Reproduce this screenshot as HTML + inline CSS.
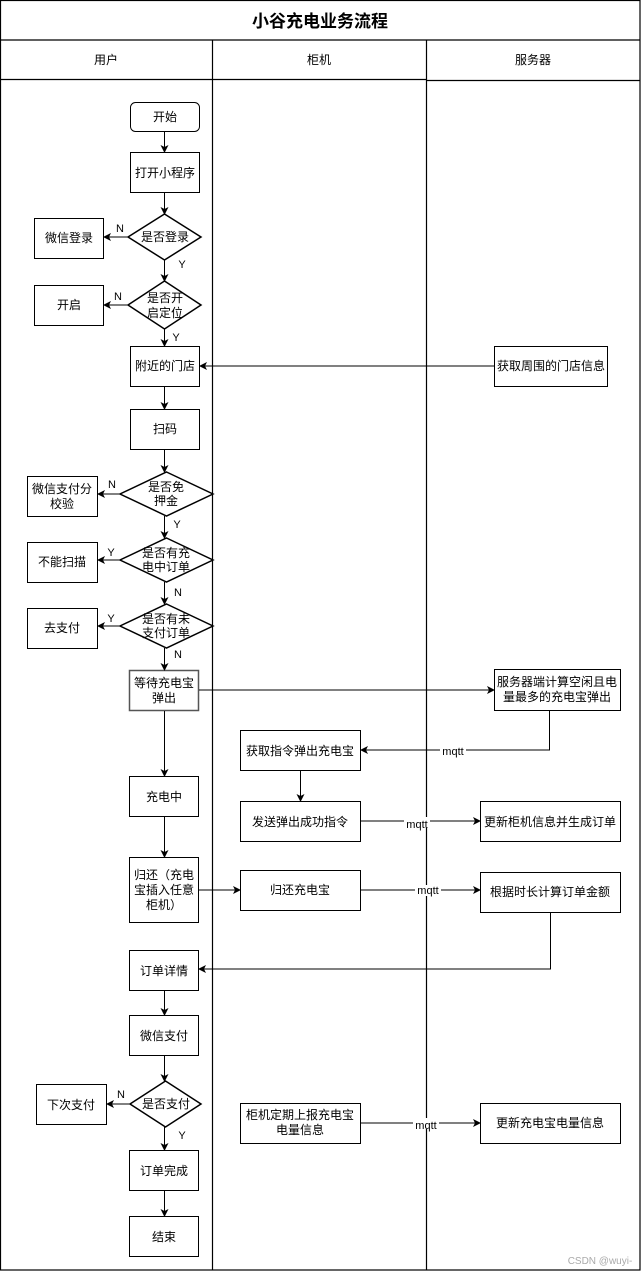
<!DOCTYPE html>
<html><head><meta charset="utf-8"><style>
html,body{margin:0;padding:0;background:#fff;}
svg{display:block;}
text{font-family:"Liberation Sans","Noto Sans CJK SC",sans-serif;font-size:12px;fill:#000;}
.l{font-size:11px;}
</style></head><body>
<svg width="641" height="1271" viewBox="0 0 641 1271" xmlns="http://www.w3.org/2000/svg">
<defs><marker id="a" markerWidth="8" markerHeight="8" refX="7" refY="4" orient="auto" markerUnits="userSpaceOnUse"><path d="M0,0 L8,4 L0,8 L2,4 Z" fill="#000"/></marker></defs>
<g fill="none" stroke="#000" stroke-width="1.2">
<rect x="0.5" y="0.5" width="639.5" height="1269.5"/>
<line x1="0" y1="40" x2="640" y2="40"/>
<line x1="212.5" y1="40" x2="212.5" y2="1270"/>
<line x1="426.5" y1="40" x2="426.5" y2="1270"/>
<line x1="0" y1="79.5" x2="426" y2="79.5"/>
<line x1="426" y1="80.5" x2="640" y2="80.5"/>
</g>
<text x="320" y="27" text-anchor="middle" style="font-size:17px;font-weight:bold">小谷充电业务流程</text>
<text x="106" y="64" text-anchor="middle">用户</text>
<text x="319" y="64" text-anchor="middle">柜机</text>
<text x="533" y="64" text-anchor="middle">服务器</text>

<g fill="#fff" stroke="#000" stroke-width="1">
<rect x="130.5" y="102.5" width="69" height="29" rx="5"/>
<rect x="130.5" y="152.5" width="69" height="40"/>
<polygon points="164.5,214 201,237 164.5,260 128,237" stroke-width="1.5"/>
<rect x="34.5" y="218.5" width="69" height="40"/>
<polygon points="164.5,281 201,305 164.5,329 128,305" stroke-width="1.5"/>
<rect x="34.5" y="285.5" width="69" height="40"/>
<rect x="130.5" y="346.5" width="69" height="40"/>
<rect x="494.5" y="346.5" width="113" height="40"/>
<rect x="130.5" y="409.5" width="69" height="40"/>
<polygon points="166.5,472 213,494 166.5,516 120,494" stroke-width="1.5"/>
<rect x="27.5" y="476.5" width="70" height="40"/>
<polygon points="166.5,538 213,560 166.5,582 120,560" stroke-width="1.5"/>
<rect x="27.5" y="542.5" width="70" height="40"/>
<polygon points="166.5,604 213,626 166.5,648 120,626" stroke-width="1.5"/>
<rect x="27.5" y="608.5" width="70" height="40"/>
<rect x="129.5" y="670.5" width="69" height="40" stroke="#555" stroke-width="1.5"/>
<rect x="494.5" y="669.5" width="126" height="41"/>
<rect x="240.5" y="730.5" width="120" height="40"/>
<rect x="129.5" y="776.5" width="69" height="40"/>
<rect x="240.5" y="801.5" width="120" height="40"/>
<rect x="480.5" y="801.5" width="140" height="40"/>
<rect x="129.5" y="857.5" width="69" height="65"/>
<rect x="240.5" y="870.5" width="120" height="40"/>
<rect x="480.5" y="872.5" width="140" height="40"/>
<rect x="129.5" y="950.5" width="69" height="40"/>
<rect x="129.5" y="1015.5" width="69" height="40"/>
<polygon points="165.5,1081 201,1104 165.5,1127 130,1104" stroke-width="1.5"/>
<rect x="36.5" y="1084.5" width="70" height="40"/>
<rect x="129.5" y="1150.5" width="69" height="40"/>
<rect x="129.5" y="1216.5" width="69" height="40"/>
<rect x="240.5" y="1103.5" width="120" height="40"/>
<rect x="480.5" y="1103.5" width="140" height="40"/>
</g>

<g stroke="#000" stroke-width="1" fill="none" marker-end="url(#a)">
<line x1="164.5" y1="132" x2="164.5" y2="152"/>
<line x1="164.5" y1="193" x2="164.5" y2="214"/>
<line x1="128" y1="237" x2="104" y2="237"/>
<line x1="164.5" y1="260" x2="164.5" y2="281"/>
<line x1="128" y1="305" x2="104" y2="305"/>
<line x1="164.5" y1="329" x2="164.5" y2="346"/>
<line x1="494" y1="366" x2="200" y2="366"/>
<line x1="164.5" y1="387" x2="164.5" y2="409"/>
<line x1="164.5" y1="450" x2="164.5" y2="472"/>
<line x1="120" y1="494" x2="98" y2="494"/>
<line x1="164.5" y1="516" x2="164.5" y2="538"/>
<line x1="120" y1="560" x2="98" y2="560"/>
<line x1="164.5" y1="582" x2="164.5" y2="604"/>
<line x1="120" y1="626" x2="98" y2="626"/>
<line x1="164.5" y1="648" x2="164.5" y2="670"/>
<line x1="199" y1="690" x2="494" y2="690"/>
<polyline points="549.5,711 549.5,750 361,750"/>
<line x1="164.5" y1="711" x2="164.5" y2="776"/>
<line x1="300.5" y1="771" x2="300.5" y2="801"/>
<line x1="361" y1="821" x2="480" y2="821"/>
<line x1="164.5" y1="817" x2="164.5" y2="857"/>
<line x1="199" y1="890" x2="240" y2="890"/>
<line x1="361" y1="890" x2="480" y2="890"/>
<polyline points="550.5,913 550.5,969 199,969"/>
<line x1="164.5" y1="991" x2="164.5" y2="1015"/>
<line x1="164.5" y1="1056" x2="164.5" y2="1081"/>
<line x1="130" y1="1104" x2="107" y2="1104"/>
<line x1="164.5" y1="1127" x2="164.5" y2="1150"/>
<line x1="164.5" y1="1191" x2="164.5" y2="1216"/>
<line x1="361" y1="1123" x2="480" y2="1123"/>
</g>

<g text-anchor="middle">
<text x="165" y="121">开始</text>
<text x="165" y="177">打开小程序</text>
<text x="165" y="241">是否登录</text>
<text x="69" y="242">微信登录</text>
<text x="165" y="302">是否开</text><text x="165" y="317">启定位</text>
<text x="69" y="309">开启</text>
<text x="165" y="370">附近的门店</text>
<text x="551" y="370">获取周围的门店信息</text>
<text x="165" y="433">扫码</text>
<text x="166" y="491">是否免</text><text x="166" y="505">押金</text>
<text x="62" y="493">微信支付分</text><text x="62" y="508">校验</text>
<text x="166" y="557">是否有充</text><text x="166" y="571">电中订单</text>
<text x="62" y="566">不能扫描</text>
<text x="166" y="623">是否有未</text><text x="166" y="637">支付订单</text>
<text x="62" y="632">去支付</text>
<text x="164" y="687">等待充电宝</text><text x="164" y="702">弹出</text>
<text x="557" y="686">服务器端计算空闲且电</text><text x="557" y="701">量最多的充电宝弹出</text>
<text x="300" y="755">获取指令弹出充电宝</text>
<text x="164" y="801">充电中</text>
<text x="300" y="826">发送弹出成功指令</text>
<text x="550" y="826">更新柜机信息并生成订单</text>
<text x="164" y="879">归还（充电</text><text x="164" y="894">宝插入任意</text><text x="164" y="909">柜机）</text>
<text x="300" y="894">归还充电宝</text>
<text x="550" y="896">根据时长计算订单金额</text>
<text x="164" y="975">订单详情</text>
<text x="164" y="1040">微信支付</text>
<text x="166" y="1108">是否支付</text>
<text x="71" y="1109">下次支付</text>
<text x="164" y="1175">订单完成</text>
<text x="164" y="1241">结束</text>
<text x="300" y="1119">柜机定期上报充电宝</text><text x="300" y="1134">电量信息</text>
<text x="550" y="1127">更新充电宝电量信息</text>
</g>
<g class="l" text-anchor="middle">
<rect x="440" y="745" width="26" height="11" fill="#fff"/>
<text class="l" x="453" y="755">mqtt</text>
<rect x="404" y="817" width="26" height="11" fill="#fff"/>
<text class="l" x="417" y="828">mqtt</text>
<rect x="415" y="885" width="26" height="11" fill="#fff"/>
<text class="l" x="428" y="894">mqtt</text>
<rect x="413" y="1118" width="26" height="11" fill="#fff"/>
<text class="l" x="426" y="1129">mqtt</text>
<text class="l" x="120" y="232">N</text>
<text class="l" x="182" y="268">Y</text>
<text class="l" x="118" y="300">N</text>
<text class="l" x="176" y="341">Y</text>
<text class="l" x="112" y="488">N</text>
<text class="l" x="177" y="528">Y</text>
<text class="l" x="111" y="556">Y</text>
<text class="l" x="178" y="596">N</text>
<text class="l" x="111" y="622">Y</text>
<text class="l" x="178" y="658">N</text>
<text class="l" x="121" y="1098">N</text>
<text class="l" x="182" y="1139">Y</text>
</g>
<text x="600" y="1264" text-anchor="middle" style="font-size:10px;fill:#aaa">CSDN @wuyi-</text>
</svg>
</body></html>
